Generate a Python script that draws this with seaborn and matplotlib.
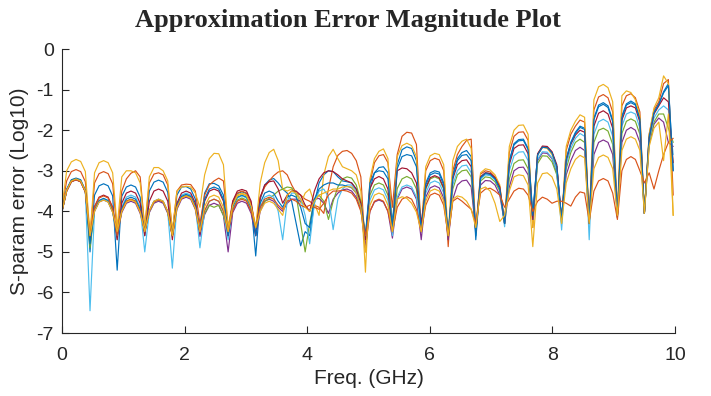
import numpy as np
import pandas as pd
import matplotlib
matplotlib.use("Agg")
import matplotlib.pyplot as plt
import seaborn as sns

nulls = [0, 0.457, 0.90, 1.35, 1.80, 2.25, 2.71, 3.16, 3.60, 4.04, 4.50, 4.95,
         5.39, 5.86, 6.30, 6.75, 7.22, 7.68, 8.15, 8.60, 9.06, 9.50, 9.97]
freq = np.concatenate([[0.0]] +
                      [np.linspace(a, b, 6, endpoint=False)
                       for a, b in zip(nulls[:-1], nulls[1:])] + [[nulls[-1]]])

# log10 error per port, one row per lobe (first row starts with the DC value)
blue_1 = [
    -7, -4.0, -3.45, -3.22, -3.18, -3.22, -3.48,
    -5.0, -3.6, -3.37, -3.32, -3.37, -3.62,
    -5.45, -3.63, -3.4, -3.35, -3.4, -3.65,
    -4.6, -3.5, -3.28, -3.23, -3.28, -3.53,
    -4.6, -3.6, -3.4, -3.39, -3.45, -3.7,
    -4.5, -3.55, -3.32, -3.31, -3.37, -3.6,
    -4.5, -3.8, -3.56, -3.52, -3.56, -3.82,
    -5.1, -3.7, -3.35, -3.23, -3.19, -3.3,
    -3.45, -3.55, -3.75, -4.3, -4.85, -4.5,
    -4.6, -3.8, -3.3, -3.1, -3.0, -3.02,
    -3.15, -3.25, -3.27, -3.3, -3.45, -3.8,
    -4.6, -3.45, -3.05, -2.92, -2.9, -3.05,
    -4.3, -2.85, -2.48, -2.41, -2.45, -2.75,
    -4.5, -3.3, -3.05, -3.0, -3.03, -3.3,
    -4.7, -3.1, -2.7, -2.55, -2.5, -2.65,
    -4.7, -3.15, -3.05, -3.07, -3.2, -3.45,
    -4.3, -2.75, -2.33, -2.23, -2.22, -2.45,
    -4.1, -2.6, -2.42, -2.42, -2.55, -2.9,
    -4.2, -2.7, -2.3, -2.05, -1.9, -1.95,
    -4.3, -1.7, -1.38, -1.32, -1.4, -1.75,
    -4.15, -1.65, -1.35, -1.28, -1.35, -1.7,
    -4.05, -2.15, -1.55, -1.35, -1.05, -0.85,
    -3.0]
orange_1 = [
    -7, -3.9, -3.25, -3.02, -2.97, -3.02, -3.27,
    -4.6, -3.3, -3.07, -3.02, -3.07, -3.32,
    -4.5, -3.5, -3.2, -3.06, -3.0, -3.15,
    -4.4, -3.3, -3.08, -3.05, -3.1, -3.35,
    -4.5, -3.5, -3.35, -3.33, -3.34, -3.5,
    -4.3, -3.6, -3.35, -3.25, -3.18, -3.25,
    -4.4, -3.75, -3.55, -3.5, -3.55, -3.8,
    -4.4, -3.65, -3.4, -3.25, -3.12, -3.03,
    -3.0, -3.1, -3.35, -3.55, -3.6, -3.7,
    -3.75, -3.85, -3.9, -4.05, -3.45, -2.9,
    -2.62, -2.52, -2.5, -2.57, -2.75, -3.15,
    -5.0, -3.3, -2.8, -2.63, -2.6, -2.8,
    -3.9, -2.6, -2.15, -2.05, -2.07, -2.35,
    -4.5, -3.0, -2.75, -2.69, -2.73, -3.0,
    -4.87, -3.0, -2.6, -2.4, -2.25, -2.22,
    -4.5, -3.08, -3.0, -3.03, -3.15, -3.4,
    -4.3, -2.55, -2.15, -2.05, -2.04, -2.25,
    -4.4, -2.6, -2.42, -2.42, -2.55, -2.9,
    -4.3, -2.5, -2.1, -1.9, -1.75, -1.8,
    -4.3, -1.5, -1.18, -1.12, -1.2, -1.55,
    -4.1, -1.4, -1.15, -1.1, -1.2, -1.55,
    -4.05, -2.1, -1.5, -1.3, -0.85, -0.75,
    -3.6]
yellow_1 = [
    -7, -3.9, -3.0, -2.78, -2.72, -2.77, -3.02,
    -4.6, -3.05, -2.8, -2.75, -2.8, -3.05,
    -4.4, -3.15, -3.0, -3.0, -3.05, -3.3,
    -4.4, -3.15, -2.92, -2.92, -3.0, -3.25,
    -4.5, -3.5, -3.4, -3.38, -3.4, -3.55,
    -3.9, -3.1, -2.7, -2.57, -2.58, -2.85,
    -4.4, -3.85, -3.6, -3.55, -3.6, -3.85,
    -4.4, -3.3, -2.8, -2.55, -2.47, -2.75,
    -3.45, -3.5, -3.45, -3.55, -3.8, -3.55,
    -3.45, -3.8, -4.1, -3.1, -2.65, -2.47,
    -2.7, -2.9, -2.95, -3.0, -3.1, -3.5,
    -5.5, -3.2, -2.7, -2.52, -2.46, -2.7,
    -4.5, -2.65, -2.38, -2.32, -2.38, -2.65,
    -4.5, -2.9, -2.63, -2.57, -2.6, -2.85,
    -4.6, -2.75, -2.4, -2.27, -2.22, -2.45,
    -4.5, -3.05, -2.95, -2.98, -3.1, -3.35,
    -4.3, -2.4, -2.0, -1.88, -1.87, -2.1,
    -4.4, -2.6, -2.42, -2.45, -2.6, -2.95,
    -4.3, -2.4, -2.0, -1.78, -1.62, -1.68,
    -4.3, -1.25, -0.93, -0.87, -0.95, -1.3,
    -4.1, -1.15, -1.03, -1.07, -1.25, -1.65,
    -4.05, -2.1, -1.45, -1.2, -0.66, -0.85,
    -4.1]
purple = [
    -7, -4.0, -3.5, -3.27, -3.22, -3.27, -3.52,
    -4.7, -4.0, -3.77, -3.72, -3.77, -4.02,
    -4.6, -4.03, -3.8, -3.75, -3.8, -4.05,
    -4.5, -4.03, -3.8, -3.75, -3.8, -4.05,
    -4.6, -3.95, -3.7, -3.65, -3.7, -3.95,
    -4.62, -4.08, -3.85, -3.8, -3.85, -4.1,
    -5.0, -4.03, -3.8, -3.75, -3.8, -4.05,
    -4.6, -4.0, -3.75, -3.7, -3.75, -3.9,
    -4.0, -3.8, -3.7, -3.7, -3.75, -3.85,
    -4.0, -3.7, -3.68, -3.8, -4.05, -3.7,
    -3.55, -3.47, -3.45, -3.5, -3.65, -3.95,
    -4.9, -4.0, -3.77, -3.72, -3.77, -4.0,
    -4.66, -3.7, -3.45, -3.4, -3.45, -3.7,
    -4.7, -3.65, -3.42, -3.37, -3.42, -3.67,
    -4.7, -3.7, -3.35, -3.25, -3.23, -3.4,
    -4.5, -3.35, -3.24, -3.25, -3.35, -3.6,
    -4.3, -3.4, -3.0, -2.92, -2.91, -3.1,
    -4.2, -2.75, -2.56, -2.57, -2.7, -3.05,
    -4.2, -3.1, -2.75, -2.5, -2.42, -2.5,
    -4.3, -2.6, -2.3, -2.24, -2.3, -2.6,
    -4.1, -2.3, -2.0, -1.93, -2.0, -2.3,
    -4.05, -2.35, -1.85, -1.7, -1.8, -2.3,
    -2.4]
green = [
    -7, -4.0, -3.48, -3.25, -3.2, -3.25, -3.5,
    -4.9, -3.98, -3.75, -3.7, -3.75, -4.0,
    -4.6, -3.98, -3.75, -3.7, -3.75, -4.0,
    -4.5, -4.0, -3.77, -3.72, -3.77, -4.02,
    -4.6, -3.9, -3.65, -3.6, -3.65, -3.9,
    -4.5, -4.05, -3.85, -3.9, -3.85, -4.1,
    -4.6, -3.95, -3.72, -3.67, -3.72, -3.97,
    -4.4, -3.9, -3.75, -3.68, -3.6, -3.5,
    -3.45, -3.4, -3.42, -3.6, -4.3, -5.0,
    -4.3, -3.7, -3.6, -3.75, -4.2, -3.75,
    -3.4, -3.2, -3.15, -3.18, -3.35, -3.75,
    -4.6, -3.6, -3.35, -3.3, -3.35, -3.6,
    -4.5, -3.44, -3.2, -3.14, -3.2, -3.45,
    -4.5, -3.45, -3.2, -3.15, -3.2, -3.45,
    -4.6, -3.45, -3.1, -3.0, -2.98, -3.15,
    -4.5, -3.25, -3.15, -3.17, -3.27, -3.5,
    -4.3, -3.2, -2.82, -2.74, -2.73, -2.95,
    -4.2, -2.82, -2.63, -2.64, -2.78, -3.1,
    -4.2, -2.95, -2.55, -2.3, -2.22, -2.3,
    -4.3, -2.3, -2.0, -1.95, -2.02, -2.35,
    -4.1, -2.08, -1.78, -1.72, -1.78, -2.1,
    -4.05, -2.3, -1.8, -1.6, -1.6, -1.95,
    -2.3]
light_blue = [
    -7, -4.0, -3.5, -3.27, -3.22, -3.27, -3.52,
    -6.45, -3.98, -3.75, -3.7, -3.75, -4.0,
    -4.7, -3.9, -3.65, -3.6, -3.65, -3.9,
    -5.0, -4.0, -3.77, -3.72, -3.77, -4.02,
    -5.4, -3.85, -3.6, -3.55, -3.6, -3.85,
    -4.9, -4.0, -3.75, -3.7, -3.75, -4.0,
    -4.7, -3.9, -3.67, -3.62, -3.67, -3.92,
    -4.5, -3.9, -3.65, -3.6, -3.65, -4.0,
    -4.7, -3.75, -3.55, -3.55, -3.7, -4.1,
    -4.8, -3.8, -3.5, -3.45, -3.65, -4.45,
    -3.7, -3.45, -3.35, -3.35, -3.5, -3.85,
    -4.7, -3.72, -3.47, -3.42, -3.47, -3.72,
    -4.6, -3.65, -3.4, -3.35, -3.4, -3.65,
    -4.41, -3.55, -3.3, -3.25, -3.3, -3.55,
    -4.5, -3.35, -3.0, -2.88, -2.86, -3.05,
    -4.4, -3.2, -3.1, -3.12, -3.22, -3.45,
    -4.38, -3.0, -2.63, -2.54, -2.53, -2.75,
    -4.2, -2.72, -2.53, -2.54, -2.68, -3.0,
    -4.46, -2.85, -2.45, -2.2, -2.08, -2.15,
    -4.7, -2.1, -1.79, -1.73, -1.8, -2.15,
    -4.1, -1.9, -1.6, -1.55, -1.6, -1.95,
    -4.05, -2.25, -1.7, -1.5, -1.4, -1.5,
    -2.6]
dark_red = [
    -7, -4.0, -3.5, -3.27, -3.22, -3.27, -3.52,
    -4.7, -3.88, -3.65, -3.6, -3.65, -3.9,
    -4.7, -3.8, -3.55, -3.5, -3.55, -3.8,
    -4.6, -3.75, -3.5, -3.45, -3.5, -3.75,
    -4.7, -3.8, -3.55, -3.5, -3.55, -3.8,
    -4.55, -3.75, -3.5, -3.45, -3.5, -3.75,
    -4.6, -3.75, -3.5, -3.46, -3.5, -3.75,
    -4.6, -3.65, -3.35, -3.27, -3.25, -3.45,
    -3.8, -3.6, -3.5, -3.5, -3.6, -3.85,
    -4.0, -3.5, -3.2, -3.05, -3.0, -3.02,
    -3.1, -3.2, -3.25, -3.3, -3.45, -3.8,
    -4.7, -3.44, -3.2, -3.14, -3.2, -3.45,
    -4.5, -3.0, -2.93, -2.95, -3.05, -3.3,
    -4.3, -3.42, -3.17, -3.12, -3.17, -3.42,
    -4.6, -3.2, -2.85, -2.75, -2.73, -2.9,
    -4.5, -3.15, -3.05, -3.07, -3.17, -3.4,
    -4.3, -2.85, -2.45, -2.37, -2.36, -2.58,
    -4.2, -2.58, -2.39, -2.4, -2.53, -2.85,
    -4.2, -2.75, -2.35, -2.12, -2.0, -2.05,
    -4.3, -1.9, -1.58, -1.52, -1.6, -1.95,
    -4.1, -1.75, -1.45, -1.4, -1.45, -1.8,
    -4.05, -2.2, -1.6, -1.4, -1.2, -1.3,
    -2.8]
blue_2 = [
    -7, -4.0, -3.47, -3.24, -3.19, -3.24, -3.49,
    -4.8, -3.96, -3.73, -3.68, -3.73, -3.98,
    -4.6, -3.93, -3.7, -3.65, -3.7, -3.95,
    -4.5, -3.98, -3.75, -3.7, -3.75, -4.0,
    -4.6, -3.86, -3.63, -3.58, -3.63, -3.88,
    -4.5, -3.7, -3.45, -3.4, -3.45, -3.7,
    -4.6, -3.88, -3.65, -3.6, -3.65, -3.9,
    -4.6, -3.8, -3.55, -3.5, -3.55, -3.75,
    -3.9, -3.65, -3.6, -3.65, -3.9, -4.3,
    -4.4, -3.7, -3.45, -3.35, -3.3, -3.3,
    -3.35, -3.35, -3.38, -3.42, -3.55, -3.9,
    -4.6, -3.3, -3.05, -3.0, -3.02, -3.2,
    -4.4, -2.95, -2.65, -2.6, -2.63, -2.9,
    -4.5, -3.35, -3.1, -3.05, -3.08, -3.35,
    -4.6, -3.15, -2.75, -2.62, -2.6, -2.75,
    -4.6, -3.17, -3.07, -3.09, -3.2, -3.45,
    -4.3, -2.78, -2.36, -2.26, -2.25, -2.48,
    -4.1, -2.61, -2.42, -2.43, -2.56, -2.9,
    -4.2, -2.72, -2.32, -2.08, -1.93, -1.98,
    -4.3, -1.74, -1.42, -1.36, -1.44, -1.79,
    -4.15, -1.69, -1.38, -1.32, -1.38, -1.73,
    -4.05, -2.17, -1.57, -1.37, -1.08, -0.9,
    -3.0]
orange_2 = [
    -7, -4.0, -3.5, -3.27, -3.22, -3.27, -3.52,
    -4.6, -3.9, -3.67, -3.62, -3.67, -3.92,
    -4.6, -3.98, -3.75, -3.7, -3.75, -4.0,
    -4.5, -4.0, -3.77, -3.72, -3.77, -4.02,
    -4.6, -3.9, -3.67, -3.62, -3.67, -3.92,
    -4.5, -3.98, -3.75, -3.7, -3.75, -4.0,
    -4.5, -3.98, -3.75, -3.7, -3.75, -4.0,
    -4.4, -3.9, -3.7, -3.65, -3.7, -3.85,
    -3.95, -3.75, -3.7, -3.75, -3.85, -3.9,
    -3.85, -3.9, -3.95, -3.8, -3.6, -3.5,
    -3.5, -3.48, -3.5, -3.55, -3.7, -4.0,
    -4.6, -4.0, -3.75, -3.7, -3.75, -4.0,
    -4.5, -3.9, -3.7, -3.64, -3.7, -3.95,
    -4.5, -3.85, -3.6, -3.55, -3.6, -3.85,
    -4.6, -3.75, -3.67, -3.75, -3.85, -3.95,
    -4.3, -3.55, -3.45, -3.43, -3.5, -3.6,
    -3.9, -3.7, -3.5, -3.43, -3.45, -3.6,
    -4.0, -3.75, -3.65, -3.7, -3.8, -3.75,
    -3.75, -3.8, -3.87, -3.65, -3.52, -3.55,
    -4.25, -3.5, -3.25, -3.19, -3.25, -3.55,
    -4.2, -3.0, -2.72, -2.65, -2.72, -3.0,
    -3.3, -3.05, -3.45, -3.0, -2.6, -2.3,
    -2.2]
yellow_2 = [
    -7, -4.0, -3.48, -3.25, -3.2, -3.25, -3.5,
    -4.6, -4.0, -3.77, -3.72, -3.77, -4.02,
    -4.5, -4.0, -3.77, -3.72, -3.77, -4.02,
    -4.5, -3.98, -3.75, -3.7, -3.75, -4.0,
    -4.6, -3.9, -3.67, -3.62, -3.67, -3.92,
    -4.5, -3.88, -3.65, -3.6, -3.65, -3.9,
    -4.5, -3.85, -3.62, -3.57, -3.62, -3.87,
    -4.4, -4.0, -3.8, -3.75, -3.8, -3.95,
    -4.1, -3.6, -3.5, -3.55, -3.7, -3.9,
    -4.0, -3.75, -3.6, -3.55, -3.5, -3.45,
    -3.45, -3.4, -3.39, -3.4, -3.55, -3.9,
    -5.0, -3.85, -3.6, -3.55, -3.6, -3.85,
    -4.5, -3.7, -3.64, -3.68, -3.8, -4.02,
    -4.5, -3.75, -3.5, -3.45, -3.5, -3.75,
    -4.6, -3.7, -3.62, -3.65, -3.75, -3.95,
    -4.4, -3.45, -3.4, -3.5, -3.8, -4.25,
    -4.1, -3.5, -3.15, -3.1, -3.12, -3.35,
    -4.87, -3.3, -3.07, -3.05, -3.15, -3.45,
    -4.3, -3.3, -2.95, -2.72, -2.62, -2.68,
    -4.3, -2.95, -2.67, -2.61, -2.67, -2.95,
    -4.1, -2.5, -2.22, -2.16, -2.22, -2.5,
    -4.05, -2.4, -1.95, -1.8, -2.75, -1.6,
    -4.1]

curves = [blue_1, orange_1, yellow_1, purple, green,
          light_blue, dark_red, blue_2, orange_2, yellow_2]
colors = ["#0072BD", "#D95319", "#EDB120", "#7E2F8E", "#77AC30",
          "#4DBEEE", "#A2142F", "#0072BD", "#D95319", "#EDB120"]

df = pd.concat([pd.DataFrame({"freq": freq, "err": vals, "curve": f"c{i}"})
                for i, vals in enumerate(curves)], ignore_index=True)

sns.set_style("white")
plt.rcParams["font.family"] = ["Liberation Sans", "DejaVu Sans"]
plt.rcParams["axes.unicode_minus"] = False

fig = plt.figure(figsize=(7.11, 3.96), dpi=100)
ax = fig.add_axes([0.0872, 0.159, 0.8622, 0.717])

sns.lineplot(data=df, x="freq", y="err", hue="curve", palette=colors,
             estimator=None, sort=False, linewidth=0.85, legend=False, ax=ax)

ax.set_xlim(0, 10)
ax.set_ylim(-7, 0)
ax.set_xticks([0, 2, 4, 6, 8, 10])
ax.set_yticks([-7, -6, -5, -4, -3, -2, -1, 0])

dark = "#262626"
for side in ["top", "right"]:
    ax.spines[side].set_visible(False)
for side in ["left", "bottom"]:
    ax.spines[side].set_color(dark)
    ax.spines[side].set_linewidth(0.8)
ax.tick_params(direction="in", length=5, width=0.8, colors=dark,
               labelsize=14, left=True, bottom=True)
ax.tick_params(axis="x", pad=10)
ax.tick_params(axis="y", pad=6)

ax.set_xlabel("Freq. (GHz)", fontsize=15, color=dark, labelpad=4)
ax.set_ylabel("S-param error (Log10)", fontsize=15, color=dark, labelpad=5)

fig.text(0.49, 0.948, "Approximation Error Magnitude Plot", ha="center",
         va="center", family="Liberation Serif", weight="bold", fontsize=19)

fig.savefig("out.png", dpi=100)
